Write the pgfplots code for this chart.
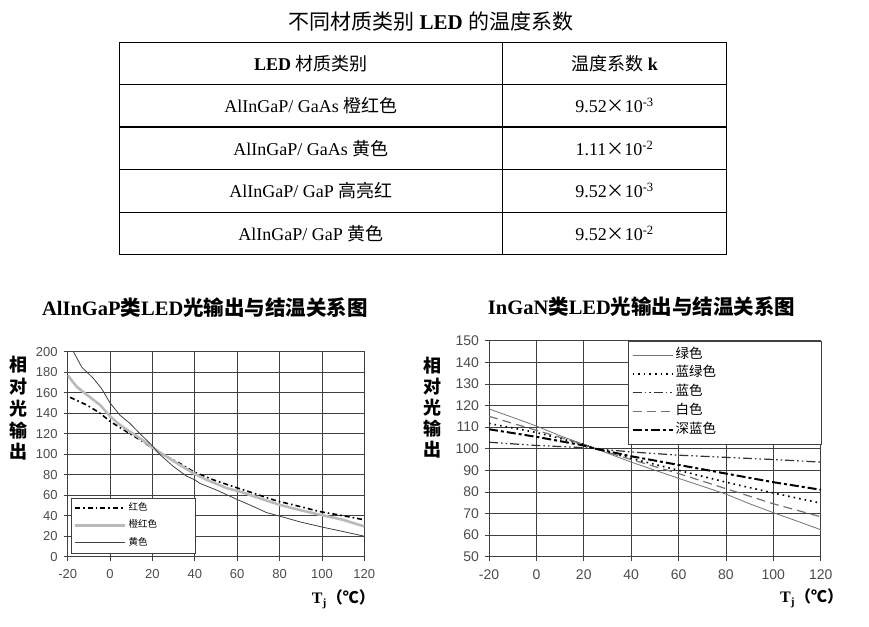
\documentclass[border=0pt]{standalone}
\usepackage{fontspec}
\setmainfont{Liberation Serif}
\setsansfont{Liberation Sans}
\newfontfamily\cjk{Noto Sans CJK SC}
\usepackage{pgfplots}
\pgfplotsset{compat=1.18}
\pgfplotsset{
  mygrid/.style={
    scale only axis, xmin=-20, xmax=120, xtick={-20,0,...,120},
    grid=major, major grid style={black!75, line width=0.8pt},
    axis line style={black!75, line width=0.8pt},
    tick style={black!75, line width=0.8pt},
    tick align=outside, major tick length=4pt,
    xtick pos=bottom, ytick pos=left,
    /pgf/number format/assume math mode=true,
    ticklabel style={font=\sffamily\fontsize{13}{13}\selectfont, text=black!70},
    xticklabel style={yshift=-5pt},
    yticklabel style={xshift=-2.5pt},
    legend cell align=left,
  }
}
\begin{document}
\begin{tikzpicture}
\path[use as bounding box] (0pt,0pt) rectangle (869pt,-626pt);
% ---- title and table ----
\node[font=\fontsize{21}{21}\selectfont] at (430.8pt,-21.7pt) {{\cjk 不同材质类别} \textbf{LED} {\cjk 的温度系数}};
\draw[line width=1.3pt] (119.3pt,-42.7pt) rectangle (726.7pt,-254.3pt);
\foreach \yy in {84.3,127,169.3,212.3} \draw[line width=1.3pt] (119.3pt,-\yy pt) -- (726.7pt,-\yy pt);
\draw[line width=1.3pt] (502.3pt,-42.7pt) -- (502.3pt,-254.3pt);
\begin{scope}[every node/.style={font=\fontsize{18}{18}\selectfont}]
\node at (310.8pt,-63.5pt) {\textbf{LED} {\cjk 材质类别}};
\node at (614.5pt,-63.5pt) {{\cjk 温度系数} \textbf{k}};
\node at (310.8pt,-105.7pt) {AlInGaP/ GaAs {\cjk 橙红色}};
\node at (310.8pt,-148.2pt) {AlInGaP/ GaAs {\cjk 黄色}};
\node at (310.8pt,-190.8pt) {AlInGaP/ GaP {\cjk 高亮红}};
\node at (310.8pt,-233.3pt) {AlInGaP/ GaP {\cjk 黄色}};
\node at (614.5pt,-105.7pt) {9.52{\cjk ×}10\textsuperscript{-3}};
\node at (614.5pt,-148.2pt) {1.11{\cjk ×}10\textsuperscript{-2}};
\node at (614.5pt,-190.8pt) {9.52{\cjk ×}10\textsuperscript{-3}};
\node at (614.5pt,-233.3pt) {9.52{\cjk ×}10\textsuperscript{-2}};
\end{scope}
% ---- chart titles ----
\node[font=\fontsize{20.5}{20.5}\selectfont] at (205pt,-308pt) {\textbf{AlInGaP}{\cjk\bfseries 类}\textbf{LED}{\cjk\bfseries 光输出与结温关系图}};
\node[font=\fontsize{20.5}{20.5}\selectfont] at (641.7pt,-307pt) {\textbf{InGaN}{\cjk\bfseries 类}\textbf{LED}{\cjk\bfseries 光输出与结温关系图}};
% ---- y labels ----
\foreach \c [count=\i from 0] in {相,对,光,输,出} {
  \node[font=\cjk\bfseries\fontsize{18}{18}\selectfont] at (18.3pt,{-365pt-\i*21.75pt}) {\c};
  \node[font=\cjk\bfseries\fontsize{18}{18}\selectfont] at (432.7pt,{-366pt-\i*20.8pt}) {\c};
}
% ---- x labels ----
\node[anchor=west, inner sep=0pt, font=\fontsize{16}{16}\selectfont] at (311.7pt,-599.3pt) {\textbf{T}\textsubscript{\textbf{j}}{\cjk\bfseries （℃）}};
\node[anchor=west, inner sep=0pt, font=\fontsize{16}{16}\selectfont] at (780pt,-598.3pt) {\textbf{T}\textsubscript{\textbf{j}}{\cjk\bfseries （℃）}};
% ---- left chart ----
\begin{axis}[mygrid, at={(67.7pt,-556.7pt)}, anchor=south west,
  width=296.6pt, height=205pt, ymin=0, ymax=200, ytick={0,20,...,200},
  legend style={at={(0,0)}, anchor=south west, xshift=3pt, yshift=3.7pt,
    draw=black!75, inner xsep=3pt, inner ysep=1.25pt,
    font=\cjk\fontsize{9.5}{9.5}\selectfont,
    nodes={inner ysep=0pt, inner xsep=2pt, text height=11pt, text depth=6.5pt}},
  legend image code/.code={\draw[#1] (0pt,0pt) -- (50pt,0pt);}]
\addplot[black, line width=1.6pt, dash pattern=on 5pt off 3pt on 1.6pt off 3pt] coordinates {
(-18.9,155.5) (-11,148) (-4.7,140) (0,132) (7.8,122) (15.7,112) (23.6,101) (33,91) (39.3,83) (48.7,75) (58.1,68.5) (67.6,62) (78.6,54.5) (89.6,49) (99,44) (110,40) (120,36)};
\addlegendentry{\makebox[62pt][l]{红色}}
\addplot[black!27, line width=2.6pt] coordinates {
(-20,177) (-15.8,166) (-11,158) (-4.7,148) (0,137) (4.7,128.5) (9.4,122) (14.1,115.5) (20.4,106) (26.7,97.5) (33,89.5) (39.3,81.5) (45.6,75) (55,67) (61.3,63.5) (70.7,57) (80.2,50.5) (89.6,45.5) (99,41) (110,36) (120,29.5)};
\addlegendentry{\makebox[62pt][l]{橙红色}}
\addplot[black!75, line width=0.8pt] coordinates {
(-17.3,200) (-13.4,185) (-7.9,174) (-4,164) (0,150) (4.7,138) (9.4,130) (14.1,120) (19.6,109) (23.6,99.5) (29.9,88) (36.2,78.5) (40,75) (42.4,71.5) (50.3,65) (59.8,56) (67.6,49) (73.9,43) (80.2,39.5) (89.6,34) (99.9,29) (110.1,24.5) (120,20)};
\addlegendentry{\makebox[62pt][l]{黄色}}
\end{axis}
% ---- right chart ----
\begin{axis}[mygrid, at={(489pt,-556.7pt)}, anchor=south west,
  width=331.7pt, height=216pt, ymin=50, ymax=150, ytick={50,60,...,150},
  ticklabel style={font=\sffamily\fontsize{14}{14}\selectfont},
  legend style={at={(1,1)}, anchor=north east, xshift=1pt,
    draw=black!75, inner xsep=3pt, inner ysep=4.65pt,
    font=\cjk\fontsize{13.5}{13.5}\selectfont,
    nodes={inner ysep=0pt, inner xsep=2pt, text height=12.5pt, text depth=6.3pt}},
  legend image code/.code={\draw[#1] (0pt,0pt) -- (40pt,0pt);}]
\addplot[black!55, line width=0.8pt] coordinates {
(-20,118.4) (-10,114.5) (0,110.5) (10,106) (20,102) (25,100) (40,93.8) (60,86.3) (80,79) (90,74.5) (100,70.4) (110,66.5) (120,62.5)};
\addlegendentry{\makebox[141pt][l]{绿色}}
\addplot[black, line width=1.6pt, dash pattern=on 1.6pt off 4pt] coordinates {
(-20,111.7) (0,107.5) (20,102) (25,100) (40,95.5) (60,90) (80,84.5) (100,79.5) (120,74.8)};
\addlegendentry{\makebox[141pt][l]{蓝绿色}}
\addplot[black!80, line width=1.2pt, dash pattern=on 9pt off 3pt on 1.6pt off 3pt on 1.6pt off 3pt] coordinates {
(-20,103) (0,101.5) (20,100.5) (25,100) (40,98.5) (60,97) (80,96) (100,95) (120,93.8)};
\addlegendentry{\makebox[141pt][l]{蓝色}}
\addplot[black!55, line width=1.2pt, dash pattern=on 9pt off 5pt] coordinates {
(-20,115) (0,108.5) (20,102) (25,100) (40,95) (60,88.5) (80,81.5) (100,74.5) (120,68.5)};
\addlegendentry{\makebox[141pt][l]{白色}}
\addplot[black, line width=2pt, dash pattern=on 9pt off 3pt on 3pt off 3pt] coordinates {
(-20,109) (0,105.5) (20,101.5) (25,100) (40,96.5) (60,92.5) (80,88.5) (100,84.5) (120,81)};
\addlegendentry{\makebox[141pt][l]{深蓝色}}
\end{axis}
\end{tikzpicture}
\end{document}
